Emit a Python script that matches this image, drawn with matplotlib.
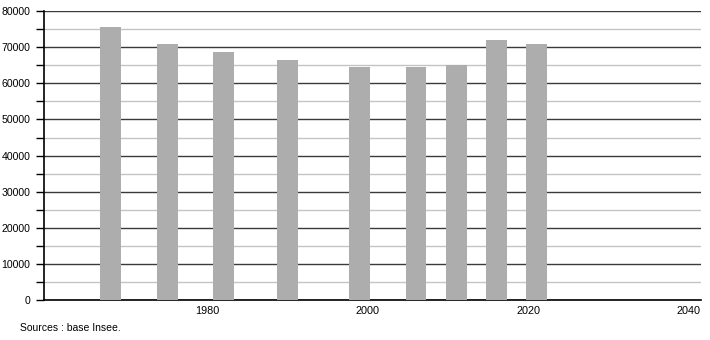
import matplotlib
matplotlib.use("Agg")
import matplotlib.pyplot as plt
from matplotlib.ticker import MultipleLocator

years = [1968, 1975, 1982, 1990, 1999, 2006, 2011, 2016, 2021]
population = [75600, 70900, 68650, 66400, 64500, 64500, 65050, 71950, 70900]
x_ticks = [1980, 2000, 2020, 2040]
y_ticks = [0, 10000, 20000, 30000, 40000, 50000, 60000, 70000, 80000]
source_text = "Sources : base Insee."

plt.rcParams['font.family'] = ['Liberation Sans', 'DejaVu Sans']

W, H = 710, 340
fig = plt.figure(figsize=(W / 100, H / 100), dpi=100)
ax = fig.add_axes([44.3 / W, (H - 300.3) / H, (701 - 44.3) / W, (300.3 - 11) / H])

ax.set_xlim(1959.7, 2041.5)
ax.set_ylim(0, 80000)

ax.bar(years, population, width=2.6, color='#adadad', zorder=3)

ax.set_yticks(y_ticks)
ax.yaxis.set_minor_locator(MultipleLocator(5000))
ax.set_xticks(x_ticks)
ax.set_xticklabels([str(t) for t in x_ticks])

ax.grid(axis='y', which='major', color='#3a3a3a', linewidth=1.0, zorder=1)
ax.grid(axis='y', which='minor', color='#c4c4c4', linewidth=1.0, zorder=1)

for s in ['top', 'right']:
    ax.spines[s].set_visible(False)
ax.spines['left'].set_color('black')
ax.spines['bottom'].set_color('black')
ax.spines['left'].set_linewidth(1.2)
ax.spines['bottom'].set_linewidth(1.2)

ax.tick_params(axis='y', which='major', length=6, width=1, labelsize=7.6, pad=4, color='black')
ax.tick_params(axis='y', which='minor', length=6, width=1, color='black')
ax.tick_params(axis='x', which='major', length=0, labelsize=7.8, pad=4)

fig.text(20 / W, (H - 328) / H, source_text, fontsize=7.5, va='center', ha='left')

fig.savefig("out.png", dpi=100)
